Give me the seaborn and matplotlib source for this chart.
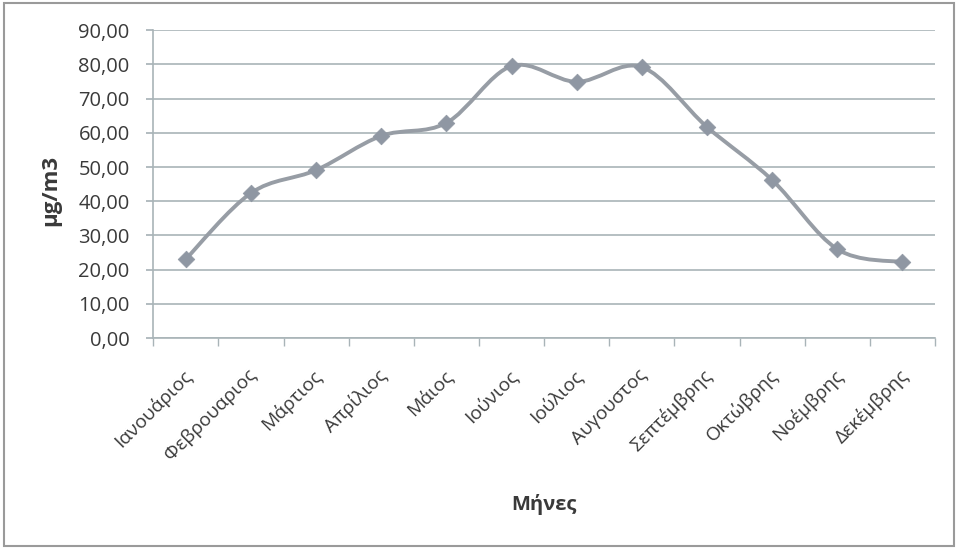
import numpy as np
import pandas as pd
import matplotlib
matplotlib.use("Agg")
import matplotlib.pyplot as plt
import matplotlib.transforms as mtransforms
from matplotlib.path import Path
from matplotlib.patches import PathPatch, Rectangle
import seaborn as sns

# Monthly mean concentration (μg/m3)
months = ["Ιανουάριος", "Φεβρουαριος", "Μάρτιος", "Απρίλιος", "Μάιος", "Ιούνιος",
          "Ιούλιος", "Αυγουστος", "Σεπτέμβρης", "Οκτώβρης", "Νοέμβρης", "Δεκέμβρης"]
values = [23.1, 42.4, 49.1, 59.1, 62.9, 79.5, 74.9, 79.2, 61.7, 46.2, 26.0, 22.2]
y_ticks = [0, 10, 20, 30, 40, 50, 60, 70, 80, 90]

sns.set_theme(style="white")
plt.rcParams["font.family"] = ["Open Sans", "DejaVu Sans"]

text_col = "#3a3a3a"
line_col = "#979da5"
marker_col = "#8f97a3"
grid_col = "#a9b4b8"

df = pd.DataFrame({"month": months, "value": values})
df["pos"] = np.arange(len(months))

fig = plt.figure(figsize=(9.58, 5.48), dpi=100)
ax = fig.add_axes([0.16, 0.383, 0.816, 0.562])

# smoothed line through the monthly values (cubic Bezier segments)
x = df["pos"].to_numpy(dtype=float)
y = df["value"].to_numpy(dtype=float)
n = len(x)
verts = [(x[0], y[0])]
codes = [Path.MOVETO]
for i in range(n - 1):
    x0, y0 = (x[i - 1], y[i - 1]) if i > 0 else (x[i], y[i])
    x3, y3 = (x[i + 2], y[i + 2]) if i + 2 < n else (x[i + 1], y[i + 1])
    c1 = (x[i] + (x[i + 1] - x0) / 6, y[i] + (y[i + 1] - y0) / 6)
    c2 = (x[i + 1] - (x3 - x[i]) / 6, y[i + 1] - (y3 - y[i]) / 6)
    verts += [c1, c2, (x[i + 1], y[i + 1])]
    codes += [Path.CURVE4, Path.CURVE4, Path.CURVE4]
ax.add_patch(PathPatch(Path(verts, codes), facecolor="none", edgecolor=line_col,
                       lw=2.8, zorder=3, capstyle="round", joinstyle="round"))

sns.scatterplot(data=df, x="pos", y="value", marker="D", s=72, color=marker_col,
                edgecolor=marker_col, linewidth=0.5, ax=ax, zorder=4, legend=False)

ax.set_xlim(-0.5, len(months) - 0.5)
ax.set_ylim(0, 90)
ax.set_yticks(y_ticks)
ax.set_yticklabels([f"{v:.2f}".replace(".", ",") for v in y_ticks],
                   fontsize=14.5, color=text_col)
ax.set_xticks(np.arange(len(months)))
ax.set_xticklabels(months, rotation=45, ha="right", rotation_mode="anchor",
                   fontsize=13.8, color=text_col)
ax.tick_params(axis="x", length=0, pad=20)
ax.tick_params(axis="y", length=5, color=grid_col, pad=12, left=True)

# nudge the rotated month labels slightly left
shift = mtransforms.ScaledTranslation(-4 / 100, 0, fig.dpi_scale_trans)
for lab in ax.get_xticklabels():
    lab.set_transform(lab.get_transform() + shift)

# category boundary tick marks on the x axis
ax.set_xticks(np.arange(-0.5, len(months)), minor=True)
ax.tick_params(axis="x", which="minor", length=6, color=grid_col, bottom=True)

ax.grid(axis="y", color=grid_col, lw=1.2)
ax.grid(axis="x", visible=False)
for side in ["top", "right"]:
    ax.spines[side].set_visible(False)
for side in ["left", "bottom"]:
    ax.spines[side].set_color(grid_col)
    ax.spines[side].set_linewidth(1.2)

ax.set_xlabel("Μήνες", fontsize=14.5, fontweight="bold", color=text_col)
ax.set_ylabel("μg/m3", fontsize=16, fontweight="bold", color=text_col)
ax.xaxis.set_label_coords(0.5, -0.505)
ax.yaxis.set_label_coords(-0.118, 0.48)

# outer frame
fig.patches.append(Rectangle((0.004, 0.004), 0.992, 0.99, transform=fig.transFigure,
                             fill=False, edgecolor="#9a9a9a", lw=1.5))

fig.savefig("out.png", dpi=100)
